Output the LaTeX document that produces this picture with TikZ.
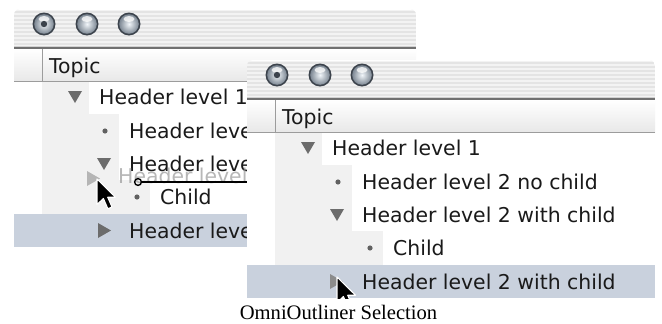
\documentclass[tikz,border=0pt]{standalone}
\usepackage{fontspec}
\usetikzlibrary{calc}
\newfontfamily\uifont{DejaVu Sans}
\newfontfamily\captfont{Liberation Serif}
\definecolor{titlebg}{HTML}{F3F3F3}
\definecolor{stripe}{HTML}{E4E4E4}
\definecolor{titleline}{HTML}{707070}
\definecolor{hdrbot}{HTML}{E8E8E8}
\definecolor{hdrline}{HTML}{9C9C9C}
\definecolor{indentbg}{HTML}{F1F1F1}
\definecolor{selbg}{HTML}{C9D1DD}
\definecolor{trigray}{HTML}{6C6C6C}
\definecolor{uitextc}{HTML}{1A1A1A}
\definecolor{btnrim}{HTML}{3C434C}
\definecolor{btnouter}{HTML}{7D8894}
\definecolor{btninner}{HTML}{F2F6FA}
\tikzset{
  uitext/.style={font=\uifont\fontsize{20.4}{24}\selectfont, text=uitextc, inner sep=0pt, anchor=base west},
}
\newcommand\downtriangle[1]{\fill[trigray] ($(#1)+(-7,-6)$) -- ($(#1)+(7,-6)$) -- ($(#1)+(0,6)$) -- cycle;}
\newcommand\drawbutton[2]{%
  \fill[btnrim] (#1) circle (11.5);
  \shade[inner color=btninner, outer color=btnouter] (#1) circle (9.8);
  \fill[white, opacity=0.75] ($(#1)+(0,-5)$) ellipse (5.5 and 3);
  \ifx#21\fill[btnrim] (#1) circle (3.2);\fi
}
\newcommand\drawwindow[2]{%
  % body
  \fill[white] (0,39) rectangle (#1,238);
  % title bar with pinstripes
  \begin{scope}
    \clip[rounded corners=6] (0,20) -- (0,0) -- (#1,0) -- (#1,20) [sharp corners] -- (#1,40) -- (0,40) -- cycle;
    \fill[titlebg] (0,0) rectangle (#1,40);
    \foreach \yy in {3,7,...,36} \draw[stripe, line width=2] (0,\yy) -- (#1,\yy);
    \fill[white] (0,0) rectangle (#1,1);
    \draw[black!18, line width=1.5] (0,37.5) -- (#1,37.5);
  \end{scope}
  \draw[titleline, line width=1.6] (0,39.2) -- (#1,39.2);
  % header
  \shade[top color=white, bottom color=hdrbot] (0,40) rectangle (#1,72);
  \draw[hdrline] (0,72.5) -- (#1,72.5);
  \draw[hdrline] (28,40) -- (28,72);
  \node[uitext] (#2topic) at (35,64.5) {Topic};
  % indentation shading
  \fill[indentbg] (28,73) rectangle (75,105);
  \fill[indentbg] (28,105) rectangle (105,171);
  \fill[indentbg] (28,171) rectangle (136,204.5);
  % selected row
  \fill[selbg] (0,204.5) rectangle (#1,238);
  % buttons
  \drawbutton{30,15}{1}
  \drawbutton{73,15}{0}
  \drawbutton{115,15}{0}
  % rows
  \downtriangle{61,88}
  \node[uitext] (#2row1) at (85,95.5) {Header level 1};
  \fill[black!62] (91,122) circle (2.6);
  \node[uitext] (#2row2) at (115,129.5) {Header level 2 no child};
  \downtriangle{90,155}
  \node[uitext] (#2row3) at (115,162.5) {Header level 2 with child};
  \fill[black!62] (123,188) circle (2.6);
  \node[uitext] (#2row4) at (146,195.5) {Child};
  \node[uitext] (#2row5) at (115,229) {Header level 2 with child};
}
\newcommand\macarrow[2]{%
  \begin{scope}[shift={(#1,#2)}, scale=1.6]
    \filldraw[fill=black, draw=white, line width=1.1pt, line join=round]
      (0,0) -- (0,16) -- (4,12.2) -- (6.8,18.6) -- (9.4,17.5) -- (6.7,11.4) -- (11.6,11.4) -- cycle;
  \end{scope}
}
\begin{document}
\begin{tikzpicture}[x=1pt,y=-1pt]
\useasboundingbox (0,0) rectangle (662,324);
\fill[white] (0,0) rectangle (662,324);
% ---------- left (back) window ----------
\begin{scope}[shift={(14,9)}]
  \drawwindow{402}{L}
  \fill[trigray] (84,214) -- (84,229) -- (97,221.5) -- cycle;
\end{scope}
% drag ghost, drop indicator and cursor in back window
\fill[gray!70, opacity=0.8] (87,171) -- (87,186) -- (100,178.5) -- cycle;
\node[uitext, text=black!40, opacity=0.7] (ghost) at (118,183.5) {Header level 2 with child};
\draw[black, line width=1.4] (138,182) circle (3.4);
\coordinate (dropend) at (252,182);
\draw[black, line width=2.2] (141.4,182) -- (dropend);
\macarrow{97}{179}
% ---------- right (front) window ----------
\begin{scope}[shift={(247,60)}]
  \drawwindow{408}{R}
  \fill[black!45] (83,214) -- (83,229) -- (96,221.5) -- cycle;
  \begin{scope}
    \clip (0,0) rectangle (408,238.5);
    \macarrow{90}{217}
  \end{scope}
\end{scope}
% ---------- caption ----------
\node[font=\captfont\fontsize{20.6}{24}\selectfont, anchor=base, inner sep=0pt] (caption) at (338.5,319) {OmniOutliner Selection};
\end{tikzpicture}
\end{document}
